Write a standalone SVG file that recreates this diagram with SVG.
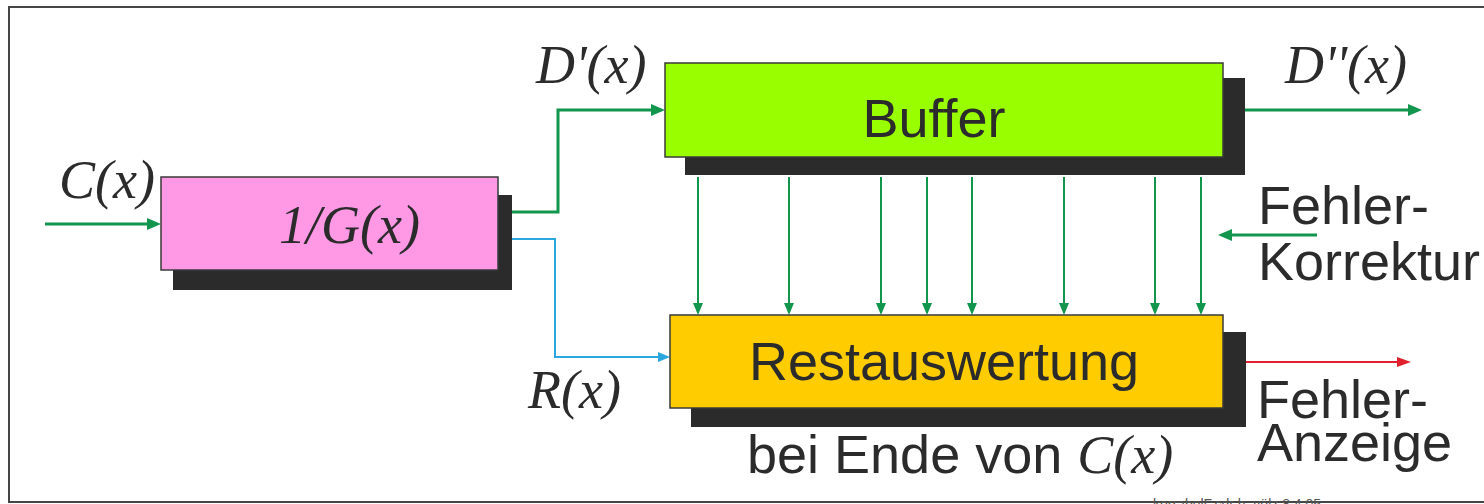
<svg xmlns="http://www.w3.org/2000/svg" width="1484" height="504" viewBox="0 0 1484 504">
<style>
.sans{font-family:"Liberation Sans",Arial,sans-serif;font-size:54px;fill:#2b2b2b}
.math{font-family:"Liberation Serif","Times New Roman",serif;font-style:italic;font-size:54px;fill:#2b2b2b}
.shadow{fill:#2b2b2b}
.box{stroke:#3a3a3a;stroke-width:1.5}
.g3{stroke:#12964e;stroke-width:3;fill:none}
.g2{stroke:#12964e;stroke-width:2;fill:none}
.blue{stroke:#2ba6de;stroke-width:2;fill:none}
.red{stroke:#e0202c;stroke-width:2;fill:none}
</style>
<defs>
<marker id="ag" markerUnits="userSpaceOnUse" markerWidth="14" markerHeight="12" refX="10" refY="6" orient="auto"><path d="M0,0 L14,6 L0,12 z" fill="#12964e"/></marker>
<marker id="ag2" markerUnits="userSpaceOnUse" markerWidth="12" markerHeight="10" refX="9" refY="5" orient="auto"><path d="M0,0 L12,5 L0,10 z" fill="#12964e"/></marker>
<marker id="ab" markerUnits="userSpaceOnUse" markerWidth="12" markerHeight="10" refX="9" refY="5" orient="auto"><path d="M0,0 L12,5 L0,10 z" fill="#2ba6de"/></marker>
<marker id="ar" markerUnits="userSpaceOnUse" markerWidth="14" markerHeight="10" refX="11" refY="5" orient="auto"><path d="M0,0 L14,5 L0,10 z" fill="#e0202c"/></marker>
</defs>
<rect x="0" y="0" width="1484" height="504" fill="#ffffff"/>
<rect x="9" y="7" width="1500" height="495" fill="#ffffff" stroke="#454545" stroke-width="2"/>

<g id="connectors">
<line class="g3" x1="45" y1="224" x2="157" y2="224" marker-end="url(#ag)"/>
<polyline class="g3" points="512,212 558,212 558,110 661,110" marker-end="url(#ag)"/>
<polyline class="blue" points="512,239 555,239 555,357 667,357" marker-end="url(#ab)"/>
<line class="g3" x1="1245" y1="110" x2="1418" y2="110" marker-end="url(#ag)"/>
<line class="g3" x1="1317" y1="235" x2="1222" y2="235" marker-end="url(#ag)"/>
<line class="red" x1="1224" y1="362" x2="1408" y2="362" marker-end="url(#ar)"/>
<g class="g2">
<line x1="698" y1="177" x2="698" y2="312" marker-end="url(#ag2)"/>
<line x1="789" y1="177" x2="789" y2="312" marker-end="url(#ag2)"/>
<line x1="881" y1="177" x2="881" y2="312" marker-end="url(#ag2)"/>
<line x1="927" y1="177" x2="927" y2="312" marker-end="url(#ag2)"/>
<line x1="972" y1="177" x2="972" y2="312" marker-end="url(#ag2)"/>
<line x1="1064" y1="177" x2="1064" y2="312" marker-end="url(#ag2)"/>
<line x1="1155" y1="177" x2="1155" y2="312" marker-end="url(#ag2)"/>
<line x1="1201" y1="177" x2="1201" y2="312" marker-end="url(#ag2)"/>
</g>
</g>

<g id="node-inverse">
<rect class="shadow" x="173" y="195" width="339" height="95"/>
<rect class="box" x="161" y="177" width="337" height="93" fill="#ff99e6"/>
<text class="math" x="279" y="243">1/G(x)</text>
</g>

<g id="node-buffer">
<rect class="shadow" x="685" y="78" width="560" height="97"/>
<rect class="box" x="665" y="63" width="558" height="94" fill="#99ff00"/>
<text class="sans" x="934" y="137" text-anchor="middle">Buffer</text>
</g>

<g id="node-restauswertung">
<rect class="shadow" x="691" y="332" width="555" height="95"/>
<rect class="box" x="670" y="315" width="553" height="93" fill="#ffcc00"/>
<text class="sans" x="944" y="380" text-anchor="middle">Restauswertung</text>
</g>

<g id="labels">
<text class="math" x="59" y="198">C(x)</text>
<text class="math" x="536" y="83">D'(x)</text>
<text class="math" x="1285" y="83">D''(x)</text>
<text class="math" x="528" y="408">R(x)</text>
<text class="sans" x="747" y="473">bei Ende von <tspan class="math">C(x)</tspan></text>
<text class="sans"><tspan x="1258" y="224">Fehler-</tspan><tspan x="1258" y="280">Korrektur</tspan></text>
<text class="sans"><tspan x="1257" y="418">Fehler-</tspan><tspan x="1257" y="461">Anzeige</tspan></text>
<text x="1153" y="509" style="font-family:'Liberation Sans',Arial,sans-serif;font-size:14px;fill:#555">korrabelF.cdr  h. völz  8.4.05</text>
</g>
</svg>
